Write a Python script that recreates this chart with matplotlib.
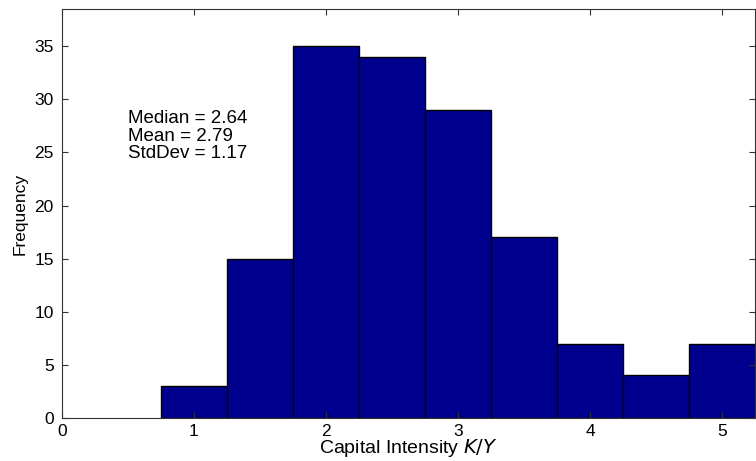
import matplotlib
matplotlib.use("Agg")
import matplotlib.pyplot as plt

plt.rcParams['font.family'] = ['Liberation Sans', 'DejaVu Sans']

# Histogram of capital intensity K/Y
bin_centers = [1.0, 1.5, 2.0, 2.5, 3.0, 3.5, 4.0, 4.5, 5.0]
counts = [3, 15, 35, 34, 29, 17, 7, 4, 7]
bin_width = 0.5

x_ticks = [0, 1, 2, 3, 4, 5]
y_ticks = [0, 5, 10, 15, 20, 25, 30, 35]
stats_text = "Median = 2.64\nMean = 2.79\nStdDev = 1.17"

fig = plt.figure(figsize=(7.56, 4.61), dpi=100)
ax = fig.add_axes([0.082, 0.0933, 0.9167, 0.8872])

ax.bar(bin_centers, counts, width=bin_width, color='#00008F',
       edgecolor='black', linewidth=1.0, align='center')

ax.set_xlim(0, 5.25)
ax.set_ylim(0, 38.5)
ax.set_xticks(x_ticks)
ax.set_yticks(y_ticks)
ax.tick_params(direction='in', top=True, right=True, length=4,
               labelsize=12.5, width=0.8, color='#333333')
ax.tick_params(axis='x', pad=4)
ax.tick_params(axis='y', pad=6)
for s in ax.spines.values():
    s.set_linewidth(0.8)
    s.set_color('#333333')

ax.set_xlabel("Capital Intensity $\\mathit{K/Y}$", fontsize=14, labelpad=-1)
ax.set_ylabel("Frequency", fontsize=12.5, labelpad=5)

ax.text(0.5, 29.0, stats_text, fontsize=13.5, va='top', ha='left',
        linespacing=1.05)

fig.savefig("out.png", dpi=100)
